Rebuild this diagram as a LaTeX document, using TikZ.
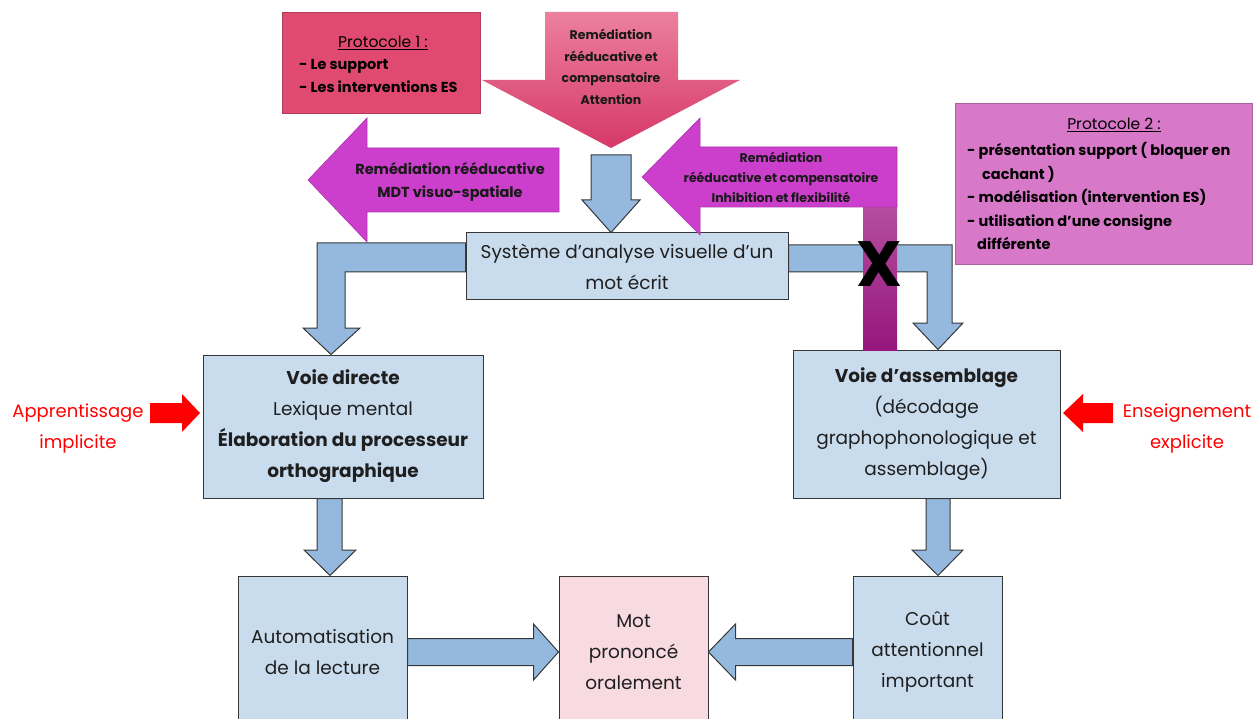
\documentclass[tikz,border=0pt]{standalone}
\usepackage{fontspec}
\setmainfont{Poppins}
\usetikzlibrary{positioning, calc}

\definecolor{boxblue}{RGB}{201,220,238}
\definecolor{arrowblue}{RGB}{149,185,222}
\definecolor{edgegray}{RGB}{55,55,55}
\definecolor{protoA}{RGB}{224,74,112}
\definecolor{protoB}{RGB}{216,120,200}
\definecolor{remedmag}{RGB}{204,62,204}
\definecolor{motpink}{RGB}{248,218,226}
\definecolor{attntop}{RGB}{236,128,158}
\definecolor{attnbot}{RGB}{214,56,104}
\definecolor{bartop}{RGB}{180,78,160}
\definecolor{barbot}{RGB}{150,22,124}

\tikzset{
  box/.style={draw=edgegray, fill=boxblue, line width=1pt, align=center, text=black!88,
    inner sep=0pt, font=\fontsize{18.5}{31}\selectfont},
  bluearrow/.style={draw=edgegray, fill=arrowblue, line width=1pt, line join=miter},
  magarrow/.style={draw=remedmag!85!black, fill=remedmag, line width=0.6pt},
  redarrow/.style={fill=red},
  protobox/.style={draw=#1!80!black, fill=#1, line width=0.7pt, anchor=north west, inner sep=0pt},
  prottitle/.style={font=\fontsize{15.5}{23}\selectfont},
  protitems/.style={align=left, anchor=west, inner sep=0pt, font=\bfseries\fontsize{14.5}{23.5}\selectfont},
  remtext/.style={align=center, text=black!90, font=\bfseries\fontsize{12}{22}\selectfont},
  redtext/.style={text=red, align=center, font=\fontsize{18}{31}\selectfont},
}

\begin{document}
\begin{tikzpicture}[x=1pt, y=-1pt]
\useasboundingbox (0,0) rectangle (1258,719);
\clip (0,0) rectangle (1258,719);

% remediation attention (top)
\shade[top color=attntop, bottom color=attnbot]
  (545,12) -- (678,12) -- (678,80) -- (740,80) -- (611,148) -- (482,80) -- (545,80) -- cycle;
\node[remtext, font=\bfseries\fontsize{12.5}{21.5}\selectfont] (attn) at (611,67)
  {Remédiation\\rééducative et\\compensatoire\\Attention};

% protocoles
\node[protobox=protoA, minimum width=198pt, minimum height=101pt] (prot1) at (282,12) {};
\node[prottitle] (prot1t) at (383,43) {\underline{Protocole 1 :}};
\node[protitems] (prot1i) at (299,76) {- Le support\\- Les interventions ES};

\node[protobox=protoB, minimum width=297pt, minimum height=161pt] (prot2) at (955,103) {};
\node[prottitle] (prot2t) at (1114,125) {\underline{Protocole 2 :}};
\node[protitems] (prot2i) at (967,196)
  {- présentation support ( bloquer en\\\hspace*{15pt}cachant )\\- modélisation (intervention ES)\\- utilisation d’une consigne\\\hspace*{10pt}différente};

% systeme d'analyse visuelle
\node[box, minimum width=322pt, minimum height=67pt] (sys) at (627,266.5)
  {Système d’analyse visuelle d’un\\mot écrit};

\draw[bluearrow] (591,155) -- (631,155) -- (631,200) -- (640,200) -- (611,0 |- sys.north)
  -- (582,200) -- (591,200) -- cycle;

% voies
\node[box, minimum width=280pt, minimum height=143pt] (vd) at (343,426.5)
  {\textbf{Voie directe}\\Lexique mental\\\textbf{Élaboration du processeur}\\\textbf{orthographique}};
\node[box, minimum width=267pt, minimum height=148pt] (va) at (926.5,424)
  {\textbf{Voie d’assemblage}\\(décodage\\graphophonologique et\\assemblage)};

\draw[bluearrow] (sys.west |- 0,243) -- (317,243) -- (317,328) -- (303,328) -- (331,0 |- vd.north)
  -- (360,328) -- (345,328) -- (345,272) -- (sys.west |- 0,272) -- cycle;
\draw[bluearrow] (sys.east |- 0,245) -- (952,245) -- (952,323) -- (963,323) -- (938,0 |- va.north)
  -- (913,323) -- (927,323) -- (927,272) -- (sys.east |- 0,272) -- cycle;

% remediations (magenta)
\draw[magarrow] (559,148) -- (367,148) -- (367,118) -- (308,180) -- (367,242) -- (367,212) -- (559,212) -- cycle;
\node[remtext, font=\bfseries\fontsize{14.5}{23}\selectfont] (mdt) at (450,182)
  {Remédiation rééducative\\MDT visuo-spatiale};

\shade[top color=bartop, bottom color=barbot] (863,206) rectangle (897,350);
\draw[magarrow] (897,147) -- (700,147) -- (700,118) -- (642,177) -- (700,235) -- (700,207) -- (897,207) -- cycle;
\node[remtext, font=\bfseries\fontsize{12.5}{20}\selectfont] (inhib) at (781,177)
  {Remédiation\\rééducative et compensatoire\\Inhibition et flexibilité};
\node[font=\bfseries\fontsize{64}{64}\selectfont] (cross) at (879,264) {X};

% apprentissage / enseignement
\node[redtext] (appr) at (78,428) {Apprentissage\\implicite};
\node[redtext] (ens) at (1187,428.5) {Enseignement\\explicite};
\fill[redarrow] (150,403) -- (182,403) -- (182,394) -- (200,413) -- (182,432) -- (182,423) -- (150,423) -- cycle;
\fill[redarrow] (1113,403) -- (1083,403) -- (1083,394) -- (1063,413) -- (1083,432) -- (1083,423) -- (1113,423) -- cycle;

% sorties
\node[box, minimum width=169pt, minimum height=152pt] (auto) at (322.5,652) {Automatisation\\de la lecture};
\node[box, fill=motpink, minimum width=149pt, minimum height=152pt] (mot) at (633.5,652) {Mot\\prononcé\\oralement};
\node[box, minimum width=149pt, minimum height=152pt] (cout) at (927.5,652) {Coût\\attentionnel\\important};

\draw[bluearrow] (317,0 |- vd.south) -- (317,550) -- (304,550) -- (330,0 |- auto.north)
  -- (356,550) -- (342,550) -- (342,0 |- vd.south) -- cycle;
\draw[bluearrow] (926,0 |- va.south) -- (926,550) -- (912,550) -- (938,0 |- cout.north)
  -- (963,550) -- (950,550) -- (950,0 |- va.south) -- cycle;

\draw[bluearrow] ([yshift=13.5pt]auto.east) -- ([xshift=-25pt,yshift=13.5pt]mot.west)
  -- ([xshift=-25pt,yshift=28pt]mot.west) -- (mot.west) -- ([xshift=-25pt,yshift=-28pt]mot.west)
  -- ([xshift=-25pt,yshift=-13.5pt]mot.west) -- ([yshift=-13.5pt]auto.east) -- cycle;
\draw[bluearrow] ([yshift=13.5pt]cout.west) -- ([xshift=27pt,yshift=13.5pt]mot.east)
  -- ([xshift=27pt,yshift=28pt]mot.east) -- (mot.east) -- ([xshift=27pt,yshift=-28pt]mot.east)
  -- ([xshift=27pt,yshift=-13.5pt]mot.east) -- ([yshift=-13.5pt]cout.west) -- cycle;
\end{tikzpicture}
\end{document}
